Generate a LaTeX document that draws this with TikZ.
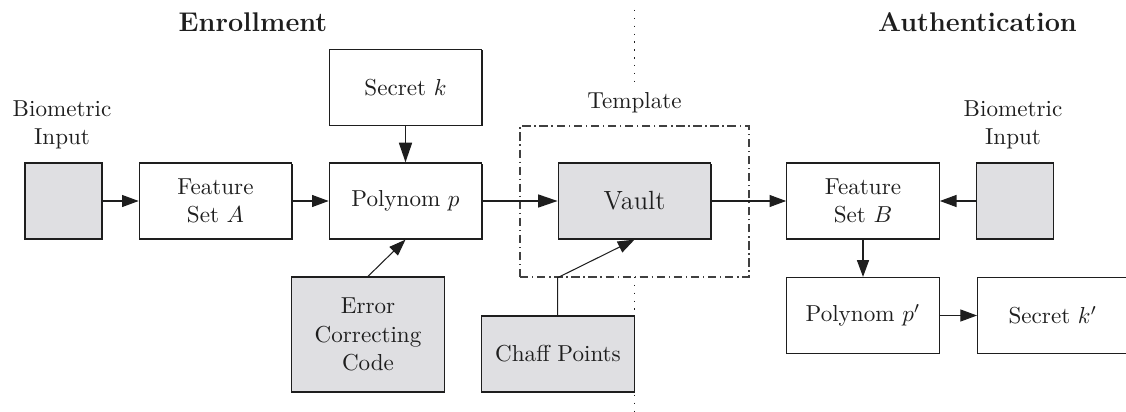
\documentclass[tikz,border=0pt]{standalone}
\usetikzlibrary{arrows.meta,shadows}
\definecolor{boxgray}{RGB}{223,223,226}
\definecolor{inkline}{RGB}{30,30,30}
\begin{document}
\begin{tikzpicture}[x=0.4329pt,y=-0.4329pt,
  every node/.style={font=\fontsize{10}{12.2}\selectfont, text=inkline},
  blk/.style={draw=inkline, line width=0.55pt, rectangle, inner sep=0pt, fill=white,
              minimum width=66pt, minimum height=32.9pt, align=center,
              general shadow={shadow xshift=0.35pt, shadow yshift=-0.4pt, fill=inkline}},
  shade/.style={blk, fill=boxgray},
  small/.style={shade, minimum width=33.3pt},
  lbl/.style={align=center, inner sep=0pt},
  title/.style={inner sep=0pt, font=\fontsize{11.7}{14}\selectfont\bfseries},
  thin/.style={draw=inkline, line width=0.45pt,
               -{Triangle[length=7.2pt,width=5.2pt]}},
  thick/.style={draw=inkline, line width=0.8pt,
               -{Triangle[length=8.5pt,width=5.6pt]}},
  tmplbox/.style={draw=inkline!85, line width=0.55pt,
               dash pattern=on 3.6pt off 1.6pt on 0.6pt off 1.6pt},
  divider/.style={draw=inkline, line width=0.6pt, dash pattern=on 0.6pt off 2.8pt}
]
\useasboundingbox (0,0) rectangle (1126,412);

% section headings
\node[title] (enr) at (253,22) {Enrollment};
\node[title] (aut) at (977.5,22) {Authentication};

% enrollment / authentication divider
\coordinate (divtop) at (634.5,10);
\coordinate (divmid) at (634.5,87);
\coordinate (divlow) at (634.5,277);
\coordinate (divbot) at (634.5,412);
\draw[divider] (divtop) -- (divmid);
\draw[divider] (divlow) -- (divbot);

% enrollment side
\node[lbl] (bioLlbl) at (62,125) {Biometric\\Input};
\node[small] (bioL) at (63.5,201) {};
\node[blk] (featA) at (215.5,201) {Feature\\Set $A$};
\node[blk] (poly) at (405.5,201) {Polynom $p$};
\node[blk] (secret) at (405.5,87.5) {Secret $k$};
\node[shade, minimum height=49.8pt] (ecc) at (368,334.5) {Error\\Correcting\\Code};
\node[shade] (chaff) at (558,354) {Chaff Points};

% template
\node[lbl] (tmpllbl) at (634.5,103) {Template};
\node[tmplbox, rectangle, inner sep=0pt, minimum width=99.1pt, minimum height=65.4pt]
  (tmpl) at (634.5,201.5) {};
\node[shade, font=\fontsize{11.4}{13}\selectfont] (vault) at (634.5,201) {Vault};

% authentication side
\node[blk] (featB) at (863,201) {Feature\\Set $B$};
\node[lbl] (bioRlbl) at (1013,125) {Biometric\\Input};
\node[small] (bioR) at (1015,201) {};
\node[blk] (polyB) at (863,315.5) {Polynom $p'$};
% this box runs on past the right margin
\node[blk, minimum width=74pt, text width=47.2pt, inner xsep=13.4pt, inner ysep=0pt,
      align=left, anchor=west] (secretB) at (977,315.5) {Secret $k'$};

% connectors
\draw[thin] (bioL) -- (featA);
\draw[thin] (featA) -- (poly);
\draw[thick] (secret) -- (poly);
\draw[thin] (ecc.north) -- (poly.south);
\draw[thick] (poly) -- (vault);
\draw[thin] (chaff.north -| vault.west) -- (vault.west |- tmpl.south) -- (vault.south);
\draw[thin] (vault) -- (featB);
\draw[thin] (bioR) -- (featB);
\draw[thin] (featB) -- (polyB);
\draw[thin] (polyB) -- (secretB);
\end{tikzpicture}
\end{document}
